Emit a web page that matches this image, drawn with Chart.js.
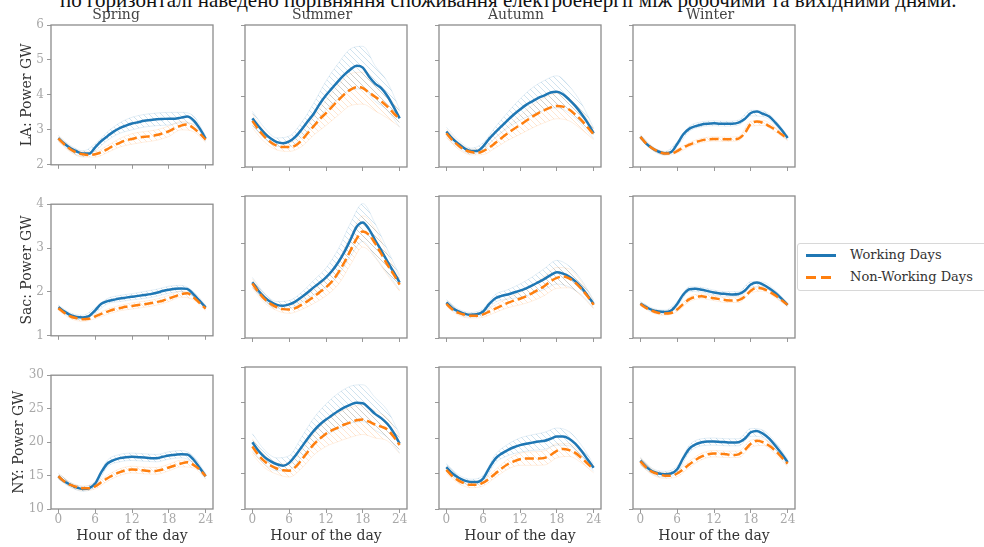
<!DOCTYPE html>
<html>
<head>
<meta charset="utf-8">
<script src="https://cdn.jsdelivr.net/npm/chart.js@4.4.0/dist/chart.umd.min.js"></script>
<style>
body { margin: 0; background: #fff; width: 984px; height: 547px; overflow: hidden; position: relative; }
canvas.panel { position: absolute; }
#caption { position: absolute; left: 60px; top: -12px; font-family: 'Liberation Serif', serif; font-size: 21px; color: #111; white-space: nowrap; }
#legend { position: absolute; left: 797px; top: 243px; width: 200px; height: 46px; border: 1px solid #d8d8d8; border-radius: 3px; font-family: 'DejaVu Serif', serif; font-size: 13px; color: #333; }
.row { position: absolute; left: 8px; height: 16px; line-height: 16px; }
.row .swatch { position: absolute; left: 0; top: 7px; width: 30px; height: 2.5px; }
.row span { position: absolute; left: 44px; white-space: nowrap; }
</style>
</head>
<body>
<div id="caption">по горизонталі наведено порівняння споживання електроенергії між робочими та вихідними днями.</div>
<div id="legend">
  <div class="row" style="top:3px"><div class="swatch" style="background:#1f77b4"></div><span>Working Days</span></div>
  <div class="row" style="top:25px"><div class="swatch" style="background:repeating-linear-gradient(90deg,#ff7f0e 0 10px,transparent 10px 15px)"></div><span>Non-Working Days</span></div>
</div>
<script>
// hours of the day, means every hour, bands every 2 hours
const hours = [0,1,2,3,4,5,6,7,8,9,10,11,12,13,14,15,16,17,18,19,20,21,22,23,24]
const bandHours = [0,2,4,6,8,10,12,14,16,18,20,22,24]
const xTicks = [0,6,12,18,24]
const seasons = ['Spring','Summer','Autumn','Winter']
const regionLabels = ['LA: Power GW','Sac: Power GW','NY: Power GW']
const laTicks = [2,3,4,5,6]
const sacTicks = [1,2,3,4]
const nyTicks = [10,15,20,25,30]

// LA
const laSpringWork = [2.76,2.6,2.47,2.38,2.32,2.32,2.5,2.68,2.82,2.95,3.05,3.12,3.18,3.22,3.26,3.28,3.3,3.31,3.32,3.32,3.35,3.38,3.28,3.05,2.75]
const laSpringOff = [2.75,2.58,2.44,2.35,2.3,2.28,2.3,2.36,2.45,2.55,2.63,2.7,2.74,2.78,2.8,2.82,2.85,2.9,2.96,3.05,3.12,3.15,3.05,2.9,2.72]
const laSpringWorkBand = [0.08,0.08,0.08,0.1,0.12,0.15,0.18,0.18,0.18,0.18,0.15,0.12,0.08]
const laSpringOffBand = [0.08,0.08,0.08,0.08,0.1,0.12,0.15,0.15,0.15,0.15,0.12,0.1,0.08]
const laSummerWork = [3.37,3.15,2.95,2.8,2.7,2.67,2.72,2.85,3.05,3.28,3.5,3.78,4.02,4.22,4.42,4.6,4.75,4.85,4.8,4.55,4.35,4.22,4.0,3.7,3.37]
const laSummerOff = [3.3,3.05,2.85,2.7,2.6,2.56,2.56,2.6,2.75,2.95,3.15,3.35,3.52,3.7,3.88,4.05,4.18,4.25,4.22,4.1,3.98,3.85,3.7,3.52,3.35]
const laSummerWorkBand = [0.2,0.15,0.12,0.15,0.2,0.3,0.4,0.5,0.58,0.6,0.5,0.4,0.25]
const laSummerOffBand = [0.2,0.15,0.12,0.12,0.18,0.25,0.35,0.42,0.45,0.45,0.4,0.32,0.22]
const laAutumnWork = [3.0,2.8,2.65,2.52,2.45,2.45,2.58,2.8,2.98,3.15,3.32,3.48,3.62,3.75,3.85,3.95,4.02,4.1,4.12,4.05,3.9,3.72,3.5,3.25,2.95]
const laAutumnOff = [2.95,2.75,2.6,2.48,2.42,2.4,2.45,2.55,2.68,2.82,2.95,3.07,3.18,3.3,3.42,3.52,3.6,3.68,3.72,3.7,3.62,3.48,3.32,3.12,2.92]
const laAutumnWorkBand = [0.12,0.1,0.08,0.1,0.15,0.22,0.3,0.38,0.42,0.45,0.38,0.3,0.15]
const laAutumnOffBand = [0.12,0.1,0.08,0.1,0.14,0.2,0.26,0.32,0.35,0.36,0.32,0.26,0.15]
const laWinterWork = [2.85,2.65,2.52,2.43,2.39,2.42,2.65,2.92,3.08,3.15,3.2,3.22,3.23,3.22,3.22,3.22,3.25,3.35,3.52,3.56,3.5,3.42,3.25,3.05,2.82]
const laWinterOff = [2.85,2.65,2.52,2.43,2.38,2.38,2.45,2.55,2.63,2.7,2.75,2.78,2.79,2.79,2.78,2.78,2.8,2.95,3.22,3.28,3.24,3.15,3.05,2.92,2.8]
const laWinterWorkBand = [0.06,0.05,0.05,0.06,0.07,0.07,0.07,0.07,0.07,0.08,0.08,0.07,0.06]
const laWinterOffBand = [0.06,0.05,0.05,0.06,0.06,0.06,0.06,0.06,0.06,0.07,0.07,0.06,0.06]

// Sacramento
const sacSpringWork = [1.65,1.55,1.47,1.43,1.42,1.45,1.58,1.73,1.79,1.82,1.85,1.87,1.89,1.91,1.93,1.95,1.98,2.02,2.05,2.07,2.08,2.07,1.95,1.8,1.65]
const sacSpringOff = [1.63,1.52,1.44,1.4,1.38,1.39,1.44,1.5,1.55,1.6,1.63,1.66,1.68,1.7,1.72,1.74,1.77,1.8,1.85,1.9,1.95,1.97,1.88,1.75,1.62]
const sacSpringWorkBand = [0.05,0.05,0.05,0.06,0.06,0.07,0.07,0.08,0.08,0.08,0.07,0.06,0.05]
const sacSpringOffBand = [0.05,0.05,0.05,0.05,0.06,0.06,0.07,0.07,0.07,0.07,0.07,0.06,0.05]
const sacSummerWork = [2.18,2.0,1.86,1.76,1.7,1.68,1.71,1.77,1.86,1.96,2.07,2.17,2.28,2.42,2.6,2.82,3.08,3.35,3.44,3.3,3.07,2.85,2.62,2.4,2.17]
const sacSummerOff = [2.15,1.97,1.82,1.72,1.65,1.61,1.6,1.63,1.7,1.78,1.87,1.97,2.07,2.2,2.38,2.6,2.85,3.1,3.25,3.18,3.0,2.78,2.55,2.35,2.13]
const sacSummerWorkBand = [0.1,0.08,0.07,0.08,0.1,0.15,0.2,0.28,0.35,0.4,0.35,0.25,0.15]
const sacSummerOffBand = [0.1,0.08,0.07,0.08,0.1,0.14,0.18,0.25,0.3,0.33,0.3,0.22,0.14]
const sacAutumnWork = [1.75,1.63,1.56,1.51,1.49,1.5,1.56,1.72,1.84,1.89,1.92,1.96,2.0,2.05,2.11,2.18,2.25,2.33,2.39,2.36,2.3,2.2,2.07,1.9,1.72]
const sacAutumnOff = [1.72,1.6,1.53,1.49,1.47,1.47,1.5,1.56,1.62,1.68,1.74,1.79,1.83,1.88,1.95,2.02,2.1,2.2,2.27,2.3,2.26,2.17,2.04,1.88,1.7]
const sacAutumnWorkBand = [0.06,0.05,0.05,0.06,0.08,0.1,0.14,0.18,0.22,0.25,0.22,0.16,0.08]
const sacAutumnOffBand = [0.06,0.05,0.05,0.06,0.08,0.1,0.13,0.17,0.2,0.22,0.2,0.15,0.08]
const sacWinterWork = [1.73,1.65,1.59,1.56,1.55,1.58,1.72,1.92,2.03,2.04,2.02,1.99,1.96,1.94,1.93,1.92,1.93,2.0,2.13,2.17,2.13,2.05,1.95,1.83,1.7]
const sacWinterOff = [1.72,1.63,1.57,1.53,1.52,1.53,1.6,1.72,1.82,1.87,1.88,1.86,1.84,1.82,1.8,1.79,1.8,1.87,2.0,2.06,2.04,1.98,1.9,1.8,1.7]
const sacWinterWorkBand = [0.04,0.04,0.04,0.05,0.05,0.05,0.05,0.05,0.05,0.06,0.05,0.05,0.04]
const sacWinterOffBand = [0.04,0.04,0.04,0.04,0.05,0.05,0.05,0.05,0.05,0.05,0.05,0.05,0.04]

// New York
const nySpringWork = [14.9,14.1,13.6,13.2,13.0,13.1,13.8,15.5,16.8,17.3,17.6,17.75,17.8,17.75,17.7,17.6,17.6,17.8,18.0,18.1,18.2,18.15,17.4,16.2,14.9]
const nySpringOff = [14.9,14.1,13.6,13.3,13.1,13.1,13.4,14.0,14.6,15.1,15.5,15.8,15.9,15.85,15.75,15.65,15.7,15.9,16.2,16.5,16.8,17.0,16.6,15.9,14.9]
const nySpringWorkBand = [0.4,0.35,0.35,0.4,0.5,0.55,0.55,0.55,0.55,0.55,0.55,0.5,0.4]
const nySpringOffBand = [0.4,0.35,0.35,0.4,0.45,0.5,0.5,0.5,0.5,0.5,0.5,0.45,0.4]
const nySummerWork = [19.4,18.2,17.3,16.7,16.3,16.1,16.5,17.5,18.7,19.9,21.0,21.9,22.6,23.2,23.8,24.3,24.7,24.95,24.9,24.2,23.4,22.8,22.0,20.8,19.2]
const nySummerOff = [18.8,17.6,16.7,16.1,15.7,15.45,15.4,15.9,16.9,18.0,19.1,19.9,20.6,21.1,21.5,21.9,22.2,22.5,22.6,22.3,21.9,21.6,21.2,20.2,19.0]
const nySummerWorkBand = [1.2,1.0,0.9,1.0,1.4,1.8,2.2,2.5,2.6,2.6,2.3,1.9,1.3]
const nySummerOffBand = [1.1,0.9,0.8,0.9,1.2,1.5,1.8,2.0,2.1,2.1,1.9,1.6,1.2]
const nyAutumnWork = [15.9,15.0,14.4,14.0,13.8,13.8,14.3,15.8,17.1,17.8,18.3,18.7,19.0,19.2,19.35,19.5,19.6,19.9,20.2,20.2,19.9,19.2,18.2,17.0,15.8]
const nyAutumnOff = [15.5,14.6,14.0,13.6,13.4,13.4,13.7,14.3,15.0,15.7,16.3,16.7,17.0,17.1,17.1,17.1,17.2,17.6,18.2,18.45,18.3,17.9,17.2,16.4,15.6]
const nyAutumnWorkBand = [0.5,0.4,0.4,0.45,0.6,0.8,1.0,1.1,1.2,1.2,1.0,0.8,0.5]
const nyAutumnOffBand = [0.5,0.4,0.4,0.45,0.55,0.7,0.85,0.95,1.0,1.0,0.9,0.7,0.5]
const nyWinterWork = [16.8,15.9,15.3,15.0,14.9,15.0,15.6,17.2,18.5,19.1,19.4,19.5,19.5,19.45,19.4,19.35,19.4,19.9,20.8,21.0,20.6,19.9,18.9,17.8,16.6]
const nyWinterOff = [16.7,15.8,15.2,14.9,14.7,14.7,15.0,15.6,16.3,16.9,17.4,17.7,17.8,17.8,17.7,17.6,17.7,18.3,19.2,19.6,19.4,18.9,18.2,17.3,16.4]
const nyWinterWorkBand = [0.5,0.4,0.4,0.45,0.5,0.5,0.5,0.5,0.5,0.55,0.5,0.5,0.45]
const nyWinterOffBand = [0.5,0.4,0.4,0.45,0.45,0.45,0.45,0.45,0.45,0.5,0.45,0.45,0.45]

const rowTicks = [laTicks, sacTicks, nyTicks]
const panels = [
    [[laSpringWork, laSpringOff, laSpringWorkBand, laSpringOffBand],
     [laSummerWork, laSummerOff, laSummerWorkBand, laSummerOffBand],
     [laAutumnWork, laAutumnOff, laAutumnWorkBand, laAutumnOffBand],
     [laWinterWork, laWinterOff, laWinterWorkBand, laWinterOffBand]],
    [[sacSpringWork, sacSpringOff, sacSpringWorkBand, sacSpringOffBand],
     [sacSummerWork, sacSummerOff, sacSummerWorkBand, sacSummerOffBand],
     [sacAutumnWork, sacAutumnOff, sacAutumnWorkBand, sacAutumnOffBand],
     [sacWinterWork, sacWinterOff, sacWinterWorkBand, sacWinterOffBand]],
    [[nySpringWork, nySpringOff, nySpringWorkBand, nySpringOffBand],
     [nySummerWork, nySummerOff, nySummerWorkBand, nySummerOffBand],
     [nyAutumnWork, nyAutumnOff, nyAutumnWorkBand, nyAutumnOffBand],
     [nyWinterWork, nyWinterOff, nyWinterWorkBand, nyWinterOffBand]]
]

// layout of the grid (plot areas in page pixels)
const plotLefts = [51, 245, 439, 633]
const plotTops = [25, 196, 367]
const plotW = 162
const plotH = 142
const FONT = "'DejaVu Serif', serif"

function hatch(color){
    let c = document.createElement('canvas')
    c.width = 6
    c.height = 6
    let g = c.getContext('2d')
    g.strokeStyle = color
    g.lineWidth = 0.7
    g.beginPath()
    g.moveTo(0, 0); g.lineTo(6, 6)
    g.moveTo(-1, 5); g.lineTo(1, 7)
    g.moveTo(5, -1); g.lineTo(7, 1)
    g.stroke()
    return g.createPattern(c, 'repeat')
}
const blueHatch = hatch('rgba(31,119,180,0.3)')
const orangeHatch = hatch('rgba(255,127,14,0.28)')

// box around every plot, like matplotlib spines
const frame = {
    id: 'frame',
    afterDatasetsDraw(chart){
        let a = chart.chartArea
        let ctx = chart.ctx
        ctx.save()
        ctx.strokeStyle = '#8c8c8c'
        ctx.lineWidth = 1.3
        ctx.strokeRect(a.left, a.top, a.right - a.left, a.bottom - a.top)
        ctx.restore()
    }
}

function meanData(arr){
    return hours.map((h, i) => ({x: h, y: arr[i]}))
}
function bandData(mean, spread, sign){
    return bandHours.map((h, i) => ({x: h, y: mean[h] + sign * spread[i]}))
}

for (let r = 0; r < 3; r++){
    for (let c = 0; c < 4; c++){
        let [work, off, workBand, offBand] = panels[r][c]
        let ticks = rowTicks[r]

        // canvas box around plot area
        let left = c == 0 ? (r == 2 ? 11 : 19) : plotLefts[c] - 8
        let top = r == 0 ? plotTops[r] - 17 : plotTops[r] - 2
        let padTop = r == 0 ? 0 : 2
        let right = plotLefts[c] + plotW + 2
        let bottom = r == 2 ? 545 : plotTops[r] + plotH + 8
        let yW = plotLefts[c] - left
        let xH = bottom - (plotTops[r] + plotH)

        let cv = document.createElement('canvas')
        cv.className = 'panel'
        cv.width = right - left
        cv.height = bottom - top
        cv.style.left = left + 'px'
        cv.style.top = top + 'px'
        document.body.appendChild(cv)

        let line = {pointRadius: 0, fill: false, cubicInterpolationMode: 'monotone'}
        new Chart(cv.getContext('2d'), {
            type: 'line',
            data: {
                datasets: [
                    Object.assign({label: 'Non-Working Days', data: meanData(off), borderColor: '#ff7f0e', borderWidth: 2.5, borderDash: [9, 4]}, line),
                    Object.assign({label: 'Working Days', data: meanData(work), borderColor: '#1f77b4', borderWidth: 2.5}, line),
                    Object.assign({data: bandData(work, workBand, 1), borderColor: 'rgba(31,119,180,0.15)', borderWidth: 0.8}, line),
                    Object.assign({}, line, {data: bandData(work, workBand, -1), borderColor: 'rgba(31,119,180,0.15)', borderWidth: 0.8, fill: 2, backgroundColor: blueHatch}),
                    Object.assign({data: bandData(off, offBand, 1), borderColor: 'rgba(255,127,14,0.15)', borderWidth: 0.8}, line),
                    Object.assign({}, line, {data: bandData(off, offBand, -1), borderColor: 'rgba(255,127,14,0.15)', borderWidth: 0.8, fill: 4, backgroundColor: orangeHatch})
                ]
            },
            options: {
                responsive: false,
                animation: false,
                devicePixelRatio: 1,
                layout: {padding: {left: 0, right: 2, top: padTop, bottom: 0}},
                plugins: {
                    legend: {display: false},
                    tooltip: {enabled: false},
                    title: {
                        display: r == 0,
                        text: seasons[c],
                        color: '#444',
                        font: {family: FONT, size: 14, weight: 'normal', lineHeight: 1},
                        padding: {top: 0, bottom: 3}
                    }
                },
                scales: {
                    x: {
                        type: 'linear',
                        min: -1.2,
                        max: 25.2,
                        afterBuildTicks: s => { s.ticks = xTicks.map(v => ({value: v})) },
                        afterFit: s => { s.height = xH },
                        ticks: {display: r == 2, color: '#a8a8a8', font: {family: FONT, size: 12}, padding: 0, maxRotation: 0, autoSkip: false},
                        grid: {drawOnChartArea: false, tickLength: 4, tickColor: '#999'},
                        border: {display: false},
                        title: {display: r == 2, text: 'Hour of the day', color: '#333', font: {family: FONT, size: 14}, padding: 0}
                    },
                    y: {
                        min: ticks[0],
                        max: ticks[ticks.length - 1],
                        afterBuildTicks: s => { s.ticks = ticks.map(v => ({value: v})) },
                        afterFit: s => { s.width = yW },
                        ticks: {display: c == 0, color: '#a8a8a8', font: {family: FONT, size: 12}, padding: 3, autoSkip: false},
                        grid: {drawOnChartArea: false, tickLength: 4, tickColor: '#999'},
                        border: {display: false},
                        title: {display: c == 0, text: regionLabels[r], color: '#333', font: {family: FONT, size: 14}, padding: 0}
                    }
                }
            },
            plugins: [frame]
        })
    }
}
</script>
</body>
</html>
